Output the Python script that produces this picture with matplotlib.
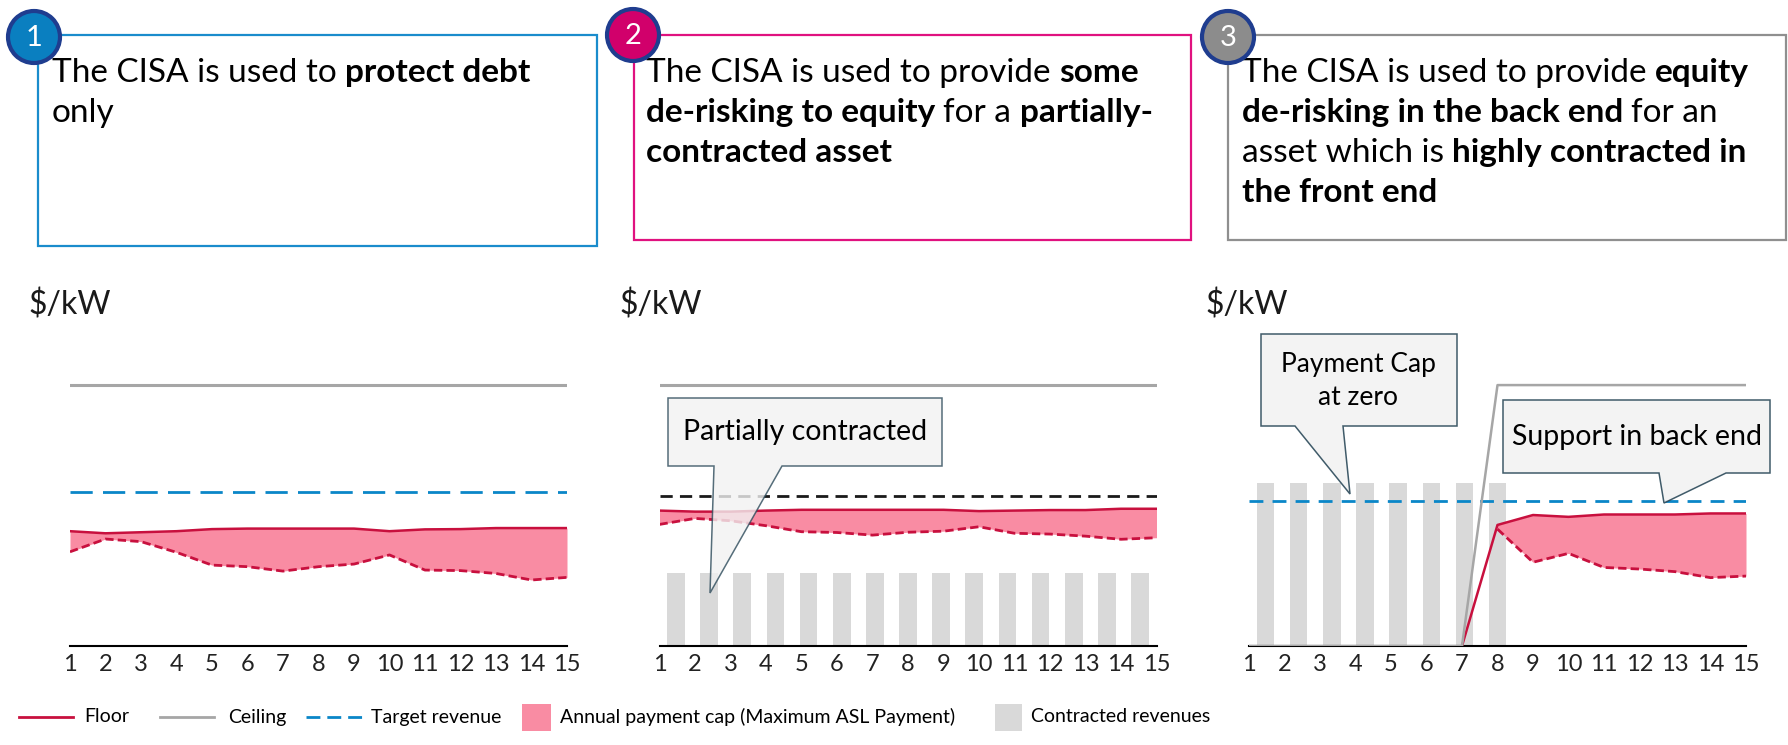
import numpy as np
import matplotlib
matplotlib.use('Agg')
import matplotlib.pyplot as plt
from matplotlib.patches import Rectangle, Circle, Polygon

FONT = 'Lato'
plt.rcParams['font.family'] = FONT

# ---- data (values in % of ceiling) ----
years = list(range(1, 16))
tick_labels = [str(y) for y in years]

p1_ceiling = [100, 100, 100, 100, 100, 100, 100, 100, 100, 100, 100, 100, 100, 100, 100]
p1_target = [59, 59, 59, 59, 59, 59, 59, 59, 59, 59, 59, 59, 59, 59, 59]
p1_floor = [44.0, 43.2, 43.6, 44.0, 44.8, 45.0, 45.0, 45.0, 45.0, 44.0, 44.7, 44.8, 45.2, 45.2, 45.2]
p1_low = [36.1, 41.0, 40.0, 35.9, 31.0, 30.4, 28.7, 30.4, 31.4, 34.9, 29.1, 28.9, 27.8, 25.3, 26.3]

p2_ceiling = [100, 100, 100, 100, 100, 100, 100, 100, 100, 100, 100, 100, 100, 100, 100]
p2_target = [57.6, 57.6, 57.6, 57.6, 57.6, 57.6, 57.6, 57.6, 57.6, 57.6, 57.6, 57.6, 57.6, 57.6, 57.6]
p2_floor = [51.9, 51.5, 51.5, 51.9, 52.2, 52.2, 52.2, 52.2, 52.2, 51.7, 51.9, 52.1, 52.1, 52.6, 52.6]
p2_low = [46.6, 48.9, 48.0, 46.1, 43.8, 43.5, 42.5, 43.6, 44.0, 45.7, 43.2, 42.9, 42.1, 40.9, 41.5]
p2_contracted = [28, 28, 28, 28, 28, 28, 28, 28, 28, 28, 28, 28, 28, 28, 28]

nan = np.nan
p3_ceiling = [0, 0, 0, 0, 0, 0, 0, 100, 100, 100, 100, 100, 100, 100, 100]
p3_target = [55.7, 55.7, 55.7, 55.7, 55.7, 55.7, 55.7, 55.7, 55.7, 55.7, 55.7, 55.7, 55.7, 55.7, 55.7]
p3_floor = [nan, nan, nan, nan, nan, nan, 0, 46.4, 50.2, 49.5, 50.4, 50.4, 50.4, 50.8, 50.8]
p3_low = [nan, nan, nan, nan, nan, nan, nan, 44.8, 32.1, 35.5, 30.1, 29.5, 28.5, 26.2, 26.8]
p3_contracted = [62.6, 62.6, 62.6, 62.6, 62.6, 62.6, 62.6, 62.6, 0, 0, 0, 0, 0, 0, 0]

box_texts = [
    [[('The CISA is used to', 'normal'), ('protect debt', 'bold')],
     [('only', 'normal')]],
    [[('The CISA is used to provide', 'normal'), ('some', 'bold')],
     [('de-risking to equity', 'bold'), ('for a', 'normal'), ('partially-', 'bold')],
     [('contracted asset', 'bold')]],
    [[('The CISA is used to provide', 'normal'), ('equity', 'bold')],
     [('de-risking in the back end', 'bold'), ('for an', 'normal')],
     [('asset which is', 'normal'), ('highly contracted in', 'bold')],
     [('the front end', 'bold')]],
]

RED = '#c8103e'
PINK = '#f98ca3'
GREY = '#a6a6a6'
BLUE = '#0a86c8'
BAR = '#d9d9d9'
CALL_FILL = '#f2f2f2'
CALL_EDGE = '#2c4a5a'

W, H = 1788, 745
fig = plt.figure(figsize=(W / 100, H / 100), dpi=100)

# Excel-style category centres for the bar series
bar_x = [1 + 14 / 15 * (i + 0.5) for i in range(15)]


def make_panel(left):
    ax = fig.add_axes([left / W, (H - 646) / H, 497 / W, 287 / H])
    ax.set_xlim(1, 15)
    ax.set_ylim(0, 110)
    for s in ['top', 'right', 'left']:
        ax.spines[s].set_visible(False)
    ax.spines['bottom'].set_linewidth(1.5)
    ax.spines['bottom'].set_color('black')
    ax.set_yticks([])
    ax.set_xticks(years)
    ax.set_xticklabels(tick_labels)
    ax.tick_params(axis='x', length=0, pad=6, labelsize=17, colors='#222222')
    ax.patch.set_alpha(0)
    return ax


# panel 1
ax1 = make_panel(70)
ax1.fill_between(years, p1_low, p1_floor, color=PINK, lw=0)
ax1.plot(years, p1_low, color=RED, lw=2, dashes=(3, 1.5))
ax1.plot(years, p1_floor, color=RED, lw=1.8)
ax1.plot(years, p1_ceiling, color=GREY, lw=2.2)
ax1.plot(years, p1_target, color=BLUE, lw=2, dashes=(8, 3.7))

# panel 2
ax2 = make_panel(659.5)
ax2.bar(bar_x, p2_contracted, width=0.5, color=BAR, lw=0)
ax2.fill_between(years, p2_low, p2_floor, color=PINK, lw=0)
ax2.plot(years, p2_low, color=RED, lw=2, dashes=(3, 1.5))
ax2.plot(years, p2_floor, color=RED, lw=1.8)
ax2.plot(years, p2_ceiling, color=GREY, lw=2.2)
ax2.plot(years, p2_target, color='#1a1a1a', lw=2, dashes=(4.4, 2.6))

# panel 3
ax3 = make_panel(1249)
ax3.bar(bar_x, p3_contracted, width=0.49, color=BAR, lw=0)
ax3.fill_between(years, p3_low, p3_floor, color=PINK, lw=0)
ax3.plot(years, p3_low, color=RED, lw=2, dashes=(3, 1.5))
ax3.plot(years, p3_floor, color=RED, lw=1.8, zorder=3)
ax3.plot(years, p3_ceiling, color=GREY, lw=1.8, zorder=4)
ax3.plot(years, p3_target, color=BLUE, lw=2, dashes=(5, 3.3))

# ---- overlay in pixel coordinates for boxes, callouts, legend ----
ov = fig.add_axes([0, 0, 1, 1])
ov.set_xlim(0, W)
ov.set_ylim(H, 0)
ov.axis('off')
ov.patch.set_alpha(0)
r = fig.canvas.get_renderer()


def text_w(s, size, weight):
    t = ov.text(0, 0, s, fontsize=size, fontweight=weight)
    w = t.get_window_extent(r).width
    t.remove()
    return w


def rich_line(x, y, runs, size):
    for txt, weight in runs:
        ov.text(x, y, txt, fontsize=size, fontweight=weight, va='baseline', ha='left', color='black')
        sp = text_w('n n', size, weight) - text_w('nn', size, weight)
        x += text_w(txt, size, weight) + sp


BOX_SIZE = 24
boxes = [(38, 35, 597, 246, '#1a8ccc', '#0a7fc0', 34, 37, 52),
         (634, 35, 1191, 240, '#e0117f', '#d1006b', 633, 35, 646),
         (1228, 35, 1786, 240, '#8f8f8f', '#8c8c8c', 1228, 37, 1242)]
for i, (x0, y0, x1, y1, ec, cfill, cx, cy, tx) in enumerate(boxes):
    ov.add_patch(Rectangle((x0, y0), x1 - x0, y1 - y0, fill=False, ec=ec, lw=1.6))
    for j, runs in enumerate(box_texts[i]):
        rich_line(tx, 82 + 40 * j, runs, BOX_SIZE)
    ov.add_patch(Circle((cx, cy), 26, fc=cfill, ec='#1f3d8f', lw=3, zorder=5))
    ov.text(cx, cy + 1, str(i + 1), fontsize=21, color='white', ha='center', va='center', zorder=6)

for x in [28, 619, 1205]:
    ov.text(x, 305, '$/kW', fontsize=23, va='center', ha='left', color='#1a1a1a')


def callout(x0, y0, x1, y1, bl, br, tip, alpha):
    pts = [(x0, y0), (x1, y0), (x1, y1), (br, y1), tip, (bl, y1), (x0, y1)]
    ov.add_patch(Polygon(pts, closed=True, fc=CALL_FILL, ec=CALL_EDGE, lw=1.1, alpha=alpha))


callout(668, 398, 942, 466, 714, 782, (710, 593), 0.8)
ov.text(805, 432, 'Partially contracted', fontsize=20.5, ha='center', va='center')
callout(1261, 334, 1457, 426, 1295, 1343, (1350, 494), 0.9)
ov.text(1358, 381, 'Payment Cap\nat zero', fontsize=19, ha='center', va='center', linespacing=1.4)
callout(1503, 400, 1770, 473, 1659, 1726, (1664, 503), 0.9)
ov.text(1637, 437, 'Support in back end', fontsize=20.5, ha='center', va='center')

# legend
LY = 717
LS = 14
ov.plot([19, 73], [LY, LY], color=RED, lw=2)
ov.text(84, LY, 'Floor', fontsize=LS, va='center')
ov.plot([160, 214], [LY, LY], color=GREY, lw=2)
ov.text(228, LY, 'Ceiling', fontsize=LS, va='center')
ov.plot([306, 362], [LY, LY], color=BLUE, lw=2, dashes=(5, 2.5))
ov.text(371, LY, 'Target revenue', fontsize=LS, va='center')
ov.add_patch(Rectangle((522, 704), 29, 27, color=PINK, lw=0))
ov.text(560, LY, 'Annual payment cap (Maximum ASL Payment)', fontsize=LS, va='center')
ov.add_patch(Rectangle((995, 704), 27, 27, color=BAR, lw=0))
ov.text(1031, LY, 'Contracted revenues', fontsize=LS, va='center')

fig.savefig('out.png', dpi=100)
